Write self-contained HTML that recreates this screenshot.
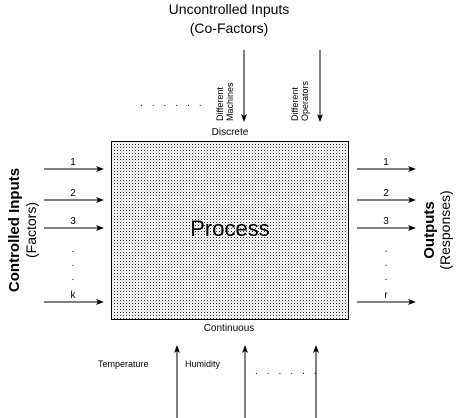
<!DOCTYPE html>
<html><head><style>body{margin:0;background:#fff}svg{display:block}text{font-family:"Liberation Sans",sans-serif;fill:#000}</style></head>
<body>
<svg width="456" height="418" viewBox="0 0 456 418" xmlns="http://www.w3.org/2000/svg">
<defs>
<pattern id="d" width="3" height="3" patternUnits="userSpaceOnUse"><rect width="3" height="3" fill="#fff"/><rect x="0" y="0" width="1" height="1" fill="#222"/><rect x="1.5" y="1.5" width="1" height="1" fill="#aaa"/></pattern>
<marker id="a" markerWidth="8" markerHeight="6" refX="7" refY="3" orient="auto" markerUnits="userSpaceOnUse"><path d="M0,0 L8,3 L0,6 L2,3z" fill="#000"/></marker>
</defs>
<rect x="111.5" y="141.5" width="237" height="178" fill="url(#d)" stroke="#000"/>
<text x="230" y="236" font-size="22" text-anchor="middle">Process</text>
<text x="229" y="14" font-size="14" text-anchor="middle">Uncontrolled Inputs</text>
<text x="229" y="33" font-size="14" text-anchor="middle">(Co-Factors)</text>
<g stroke="#000" marker-end="url(#a)">
<line x1="244" y1="50" x2="244" y2="121"/><line x1="320" y1="50" x2="320" y2="121"/>
<line x1="44" y1="169" x2="103" y2="169"/><line x1="44" y1="200" x2="103" y2="200"/><line x1="44" y1="228" x2="103" y2="228"/><line x1="44" y1="302" x2="103" y2="302"/>
<line x1="357" y1="169" x2="415" y2="169"/><line x1="357" y1="200" x2="415" y2="200"/><line x1="357" y1="228" x2="415" y2="228"/><line x1="357" y1="302" x2="415" y2="302"/>
<line x1="177" y1="418" x2="177" y2="346"/><line x1="245" y1="418" x2="245" y2="346"/><line x1="316" y1="418" x2="316" y2="346"/>
</g>
<g font-size="10" text-anchor="middle">
<text x="73" y="165">1</text><text x="73" y="196">2</text><text x="73" y="224">3</text><text x="73" y="298">k</text>
<text x="73" y="252">.</text><text x="73" y="266">.</text><text x="73" y="280">.</text>
<text x="386" y="165">1</text><text x="386" y="196">2</text><text x="386" y="224">3</text><text x="386" y="298">r</text>
<text x="386" y="252">.</text><text x="386" y="266">.</text><text x="386" y="280">.</text>
<text x="230" y="135">Discrete</text>
<text x="229" y="331">Continuous</text>
</g>
<text x="98" y="367" font-size="9">Temperature</text>
<text x="185" y="367" font-size="9">Humidity</text>
<text x="140" y="106" font-size="10" letter-spacing="9">......</text>
<text x="255" y="374" font-size="10" letter-spacing="9">......</text>
<g font-size="9">
<text transform="translate(223,121) rotate(-90)">Different</text>
<text transform="translate(233,121) rotate(-90)">Machines</text>
<text transform="translate(298,121) rotate(-90)">Different</text>
<text transform="translate(308,121) rotate(-90)">Operators</text>
</g>
<text transform="translate(19,230) rotate(-90)" font-size="15" font-weight="bold" text-anchor="middle">Controlled Inputs</text>
<text transform="translate(36,230) rotate(-90)" font-size="14" text-anchor="middle">(Factors)</text>
<text transform="translate(434,230) rotate(-90)" font-size="15" font-weight="bold" text-anchor="middle">Outputs</text>
<text transform="translate(450,230) rotate(-90)" font-size="14" text-anchor="middle">(Responses)</text>
</svg>
</body></html>
